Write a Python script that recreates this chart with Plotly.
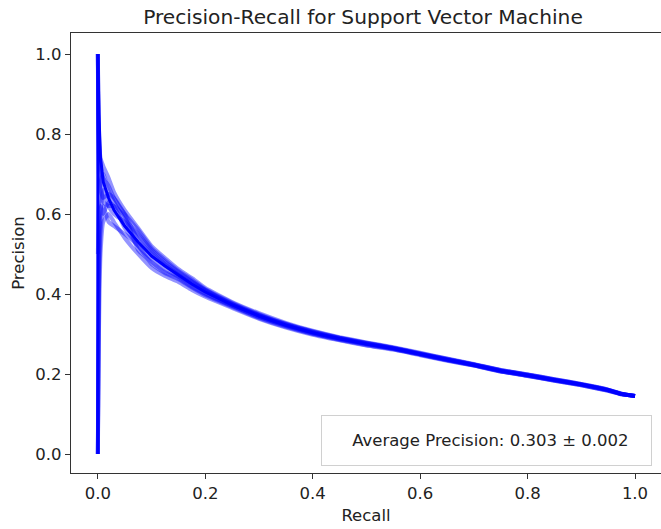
import plotly.graph_objects as go

recall = [0.0, 0.002, 0.005, 0.01, 0.02, 0.03, 0.05, 0.075, 0.1, 0.125, 0.15, 0.175, 0.2,
          0.25, 0.3, 0.35, 0.4, 0.45, 0.5, 0.55, 0.6, 0.65, 0.7, 0.75, 0.8, 0.85, 0.9,
          0.95, 0.975, 1.0]

# individual (bootstrap) curves
run_a = [1.0, 0.80, 0.74, 0.72, 0.69, 0.655, 0.61, 0.565, 0.52, 0.49, 0.462, 0.44, 0.415,
         0.38, 0.352, 0.328, 0.308, 0.292, 0.279, 0.267, 0.253, 0.239, 0.225, 0.21, 0.199,
         0.187, 0.175, 0.161, 0.151, 0.145]
run_b = [0.0, 0.30, 0.50, 0.58, 0.60, 0.58, 0.54, 0.50, 0.465, 0.445, 0.43, 0.41, 0.393,
         0.365, 0.338, 0.316, 0.298, 0.284, 0.271, 0.261, 0.247, 0.233, 0.221, 0.206, 0.195,
         0.183, 0.172, 0.158, 0.149, 0.145]
run_c = [0.0, 0.45, 0.60, 0.66, 0.62, 0.60, 0.58, 0.545, 0.505, 0.475, 0.45, 0.43, 0.41,
         0.375, 0.347, 0.324, 0.305, 0.29, 0.277, 0.265, 0.251, 0.237, 0.224, 0.209, 0.198,
         0.186, 0.174, 0.16, 0.15, 0.145]
run_d = [1.0, 0.75, 0.70, 0.63, 0.62, 0.62, 0.595, 0.51, 0.48, 0.455, 0.44, 0.418, 0.40,
         0.37, 0.342, 0.32, 0.301, 0.287, 0.274, 0.263, 0.249, 0.235, 0.222, 0.207, 0.196,
         0.184, 0.173, 0.159, 0.15, 0.145]
run_e = [0.5, 0.62, 0.68, 0.70, 0.66, 0.63, 0.585, 0.55, 0.51, 0.48, 0.455, 0.432, 0.41,
         0.376, 0.348, 0.325, 0.306, 0.29, 0.277, 0.265, 0.251, 0.237, 0.224, 0.209, 0.198,
         0.186, 0.174, 0.16, 0.15, 0.145]
run_f = [1.0, 0.70, 0.66, 0.64, 0.65, 0.64, 0.60, 0.535, 0.50, 0.472, 0.448, 0.427, 0.407,
         0.374, 0.346, 0.323, 0.304, 0.289, 0.276, 0.264, 0.25, 0.236, 0.223, 0.208, 0.197,
         0.185, 0.174, 0.16, 0.15, 0.145]
run_g = [0.0, 0.55, 0.62, 0.60, 0.63, 0.62, 0.565, 0.52, 0.488, 0.462, 0.443, 0.421, 0.402,
         0.371, 0.343, 0.321, 0.302, 0.287, 0.274, 0.263, 0.249, 0.235, 0.222, 0.207, 0.196,
         0.184, 0.173, 0.159, 0.15, 0.145]
run_h = [1.0, 0.78, 0.72, 0.69, 0.67, 0.64, 0.60, 0.56, 0.515, 0.485, 0.458, 0.436, 0.412,
         0.378, 0.35, 0.326, 0.307, 0.291, 0.278, 0.266, 0.252, 0.238, 0.224, 0.21, 0.199,
         0.187, 0.175, 0.161, 0.151, 0.145]
run_i = [0.0, 0.40, 0.55, 0.62, 0.58, 0.57, 0.55, 0.52, 0.475, 0.452, 0.437, 0.416, 0.397,
         0.368, 0.34, 0.318, 0.30, 0.285, 0.272, 0.262, 0.248, 0.234, 0.221, 0.206, 0.195,
         0.183, 0.172, 0.158, 0.149, 0.145]
runs = [run_a, run_b, run_c, run_d, run_e, run_f, run_g, run_h, run_i]

# mean curve
mean_recall = [0.0, 0.0, 0.002, 0.005, 0.01, 0.02, 0.03, 0.05, 0.075, 0.1, 0.125, 0.15, 0.175,
               0.2, 0.25, 0.3, 0.35, 0.4, 0.45, 0.5, 0.55, 0.6, 0.65, 0.7, 0.75, 0.8, 0.85,
               0.9, 0.95, 0.975, 1.0]
mean_precision = [0.0, 1.0, 0.85, 0.74, 0.68, 0.64, 0.61, 0.57, 0.53, 0.495, 0.47, 0.447,
                  0.425, 0.405, 0.373, 0.345, 0.322, 0.303, 0.288, 0.275, 0.264, 0.25, 0.236,
                  0.223, 0.208, 0.197, 0.185, 0.174, 0.16, 0.15, 0.145]

x_ticks = [0.0, 0.2, 0.4, 0.6, 0.8, 1.0]
y_ticks = [0.0, 0.2, 0.4, 0.6, 0.8, 1.0]
legend_text = "Average Precision: 0.303 ± 0.002"

fig = go.Figure()
for r in runs:
    fig.add_trace(go.Scatter(x=recall, y=r, mode="lines",
                             line=dict(color="rgba(0,0,255,0.42)", width=4, shape="spline",
                                       smoothing=0.4),
                             showlegend=False, hoverinfo="skip"))
fig.add_trace(go.Scatter(x=mean_recall, y=mean_precision, mode="lines",
                         line=dict(color="#0000ff", width=3), showlegend=False))

font = "DejaVu Sans"
fs = 16.5
axis_common = dict(showgrid=False, zeroline=False, showline=True, linecolor="#333333",
                   linewidth=1.3, ticks="outside", ticklen=5, tickwidth=1.2,
                   tickcolor="#333333", tickfont=dict(family=font, size=fs, color="#222222"))

fig.update_layout(
    width=661, height=529,
    margin=dict(l=71, r=0, t=33, b=56),
    paper_bgcolor="white", plot_bgcolor="white",
    title=dict(text="Precision-Recall for Support Vector Machine", x=(363 - 71) / 590,
               xref="paper", xanchor="center", y=1 - 17 / 529, yanchor="middle",
               font=dict(family=font, size=20.2, color="#222222")),
    xaxis=dict(range=[-0.05, 1.0484], tickvals=x_ticks, ticktext=[f"{v:.1f}" for v in x_ticks],
               mirror=True,
               title=dict(text="Recall", font=dict(family=font, size=fs, color="#222222"),
                          standoff=7),
               **axis_common),
    yaxis=dict(range=[-0.0475, 1.0525], tickvals=y_ticks, ticktext=[f"{v:.1f}" for v in y_ticks],
               title=dict(text="Precision", font=dict(family=font, size=fs, color="#222222"),
                          standoff=6),
               **axis_common),
    annotations=[dict(text="&nbsp;" * 5 + legend_text, xref="paper", yref="paper",
                      x=(486 - 71) / 590, y=(473 - 440) / 440, xanchor="center", yanchor="middle",
                      showarrow=False, width=321, height=41, borderpad=4, align="left",
                      bordercolor="#d0d0d0", borderwidth=1, bgcolor="rgba(255,255,255,0.8)",
                      font=dict(family=font, size=fs, color="#222222"))],
)

fig.write_html("out.html")
